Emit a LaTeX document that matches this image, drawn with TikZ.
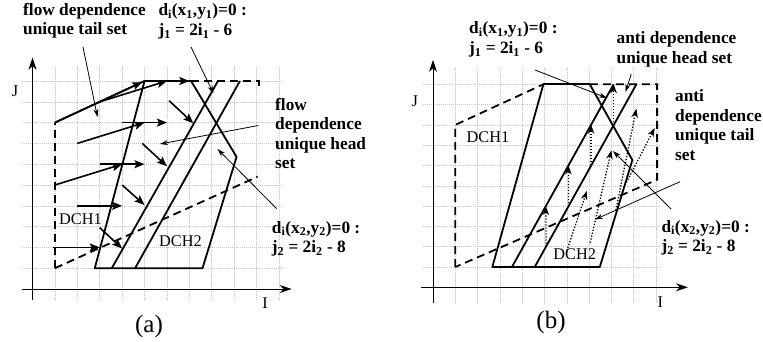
\documentclass[tikz,border=0pt]{standalone}
\usepackage{fontspec}
\setmainfont{Liberation Serif}
\usetikzlibrary{arrows.meta}
\begin{document}
\begin{tikzpicture}[x=1pt,y=-1pt,
  lbl/.style={font=\bfseries\fontsize{17.3}{19.5}\selectfont, align=left, inner sep=0pt, anchor=base west},
  rlbl/.style={font=\fontsize{16.3}{18}\selectfont, inner sep=0pt},
  captxt/.style={font=\fontsize{25}{28}\selectfont, inner sep=0pt},
  gridl/.style={gray!45, line width=0.5pt, dash pattern=on 0.8pt off 1.2pt},
  axis/.style={line width=1pt, -{Stealth[length=12pt,width=8pt]}},
  hull/.style={line width=1.8pt, line join=round},
  hulldash/.style={line width=1.8pt, dash pattern=on 8pt off 5pt},
  deparr/.style={line width=1.6pt, -{Stealth[length=10pt,width=8pt,inset=2pt]}},
  leader/.style={line width=0.8pt, -{Stealth[length=8pt,width=5pt]}},
  dotarr/.style={line width=1.3pt, dash pattern=on 1.3pt off 1.7pt, -{Stealth[length=9pt,width=6.5pt]}},
]
\useasboundingbox (0,0) rectangle (763,342);

% ---------------- panel (a) ----------------
\begin{scope}[shift={(32.5pt,-289pt)}, x=22.4pt, y=20.8pt]
  \foreach \k in {1,...,11} \draw[gridl] (\k,-0.53) -- (\k,10.67);
  \foreach \k in {1,...,10} \draw[gridl] (-0.47,\k) -- (11.18,\k);
  \draw[axis] (0,-0.55) -- (0,11.12);
  \draw[axis] (-0.48,0) -- (11.57,0);
  % hull outlines
  \draw[hulldash] (1,1) -- (1,8);
  \draw[hull] (1,8) -- (5,10) -- (7.08,10);
  \draw[hulldash] (7.08,10) -- (10.1,10) -- (10.1,9.75);
  \draw[hulldash] (1,1) -- (10.05,5.4);
  \draw[hull] (5,10) -- (2.78,1) -- (7.59,1) -- (9.11,6.35) -- (7.08,10);
  \draw[hull] (3.54,1) -- (8.28,10);
  \draw[hull] (4.58,1) -- (9.26,10);
  % flow dependence arrows
  \draw[deparr] (1,8) -- (4.9,9.95);
  \draw[deparr] (3,9) -- (6,10);
  \draw[deparr] (5,10) -- (7,10);
  \draw[deparr] (4,8) -- (6,8);
  \draw[deparr] (2,7) -- (5,8);
  \draw[deparr] (3,6) -- (5,6);
  \draw[deparr] (1,5) -- (4,6);
  \draw[deparr] (2,4) -- (4,4);
  \draw[deparr] (0.9,2) -- (3,2);
  \draw[deparr] (6.1,9.05) -- (7.18,7.97);
  \draw[deparr] (4.9,7.0) -- (6.0,5.9);
  \draw[deparr] (4,5) -- (5,4.04);
  \draw[deparr] (3,2.95) -- (4,1.95);
\end{scope}

% labels: anchor = baseline of the last line
\node[lbl] (tailA) at (23,35) {flow dependence\\unique tail set};
\coordinate (tailAs) at (83,47);
\coordinate (tailAe) at (97.5,117);
\draw[leader] (tailAs) -- (tailAe);

\node[lbl] (d1A) at (158.3,35.5) {d\textsubscript{i}(x\textsubscript{1},y\textsubscript{1})=0 :\\j\textsubscript{1} = 2i\textsubscript{1} - 6};
\coordinate (d1As) at (191,47);
\coordinate (d1Ae) at (213.5,93.5);
\draw[leader] (d1As) -- (d1Ae);

\node[lbl] (headA) at (275,168.5) {flow\\dependence\\unique head\\set};
\coordinate (headAs) at (258.3,125.5);
\coordinate (headAe) at (160,144);
\draw[leader] (headAs) -- (headAe);

\node[lbl] (d2A) at (271.7,252.5) {d\textsubscript{i}(x\textsubscript{2},y\textsubscript{2})=0 :\\j\textsubscript{2} = 2i\textsubscript{2} - 8};
\coordinate (d2As) at (276.5,208.5);
\coordinate (d2Ae) at (217.5,149);
\draw[leader] (d2As) -- (d2Ae);

\node[rlbl] (JA) at (15,91) {J};
\node[rlbl] (IA) at (265,303) {I};
\node[rlbl] (dch1A) at (80.5,219) {DCH1};
\node[rlbl] (dch2A) at (180.5,241) {DCH2};
\node[captxt] (capA) at (149,326) {(a)};

% ---------------- panel (b) ----------------
\begin{scope}[shift={(433pt,-287.3pt)}, x=22.3pt, y=20.3pt]
  \foreach \k in {1,...,10} \draw[gridl] (\k,-0.77) -- (\k,10.85);
  \foreach \k in {1,...,10} \draw[gridl] (-0.45,\k) -- (10.18,\k);
  \draw[axis] (0,-0.77) -- (0,11.2);
  \draw[axis] (-0.54,0) -- (11.43,0);
  % hull outlines
  \draw[hulldash] (1,1) -- (1,8) -- (4.95,10);
  \draw[hull] (4.95,10) -- (7.03,10);
  \draw[hulldash] (7.03,10) -- (10.05,10) -- (10.05,5.3) -- (1,1);
  \draw[hull] (4.95,10) -- (2.66,1) -- (7.48,1) -- (8.94,6.27) -- (7.03,10);
  \draw[hull] (3.54,1) -- (8.1,10);
  \draw[hull] (4.56,1) -- (9.12,10);
  % anti dependence arrows
  \draw[dotarr] (5.07,2) -- (5.06,4);
  \draw[dotarr] (6.08,4) -- (6.07,6);
  \draw[dotarr] (7.09,6) -- (7.09,8);
  \draw[dotarr] (8.1,8) -- (8.1,10);
  \draw[dotarr] (6,1.8) -- (6.9,4.75);
  \draw[dotarr] (7.05,2.2) -- (8,6.75);
  \draw[dotarr] (8.2,3.8) -- (9.12,8.8);
  \draw[dotarr] (8.55,4.9) -- (9.94,7.85);
\end{scope}

\node[lbl] (d1B) at (469,53.5) {d\textsubscript{i}(x\textsubscript{1},y\textsubscript{1})=0 :\\j\textsubscript{1} = 2i\textsubscript{1} - 6};
\coordinate (d1Bs) at (535,70);
\coordinate (d1Be) at (607,98);
\draw[leader] (d1Bs) -- (d1Be);

\node[lbl] (headB) at (616.5,63.5) {anti dependence\\unique head set};
\coordinate (headBs) at (631.3,74);
\coordinate (headBe) at (625.5,92);
\draw[leader] (headBs) -- (headBe);

\node[lbl] (tailB) at (675,160.2) {anti\\dependence\\unique tail\\set};
\coordinate (tailBs) at (680,181.7);
\coordinate (tailBe) at (595,219.5);
\draw[leader] (tailBs) -- (tailBe);

\node[lbl] (d2B) at (661.3,251.5) {d\textsubscript{i}(x\textsubscript{2},y\textsubscript{2})=0 :\\j\textsubscript{2} = 2i\textsubscript{2} - 8};
\coordinate (d2Bs) at (671,209);
\coordinate (d2Be) at (613,151);
\draw[leader] (d2Bs) -- (d2Be);

\node[rlbl] (JB) at (414.7,101) {J};
\node[rlbl] (IB) at (660.3,301.7) {I};
\node[rlbl] (dch1B) at (488,137.5) {DCH1};
\node[rlbl] (dch2B) at (574.7,254) {DCH2};
\node[captxt] (capB) at (551,322.5) {(b)};
\end{tikzpicture}
\end{document}
